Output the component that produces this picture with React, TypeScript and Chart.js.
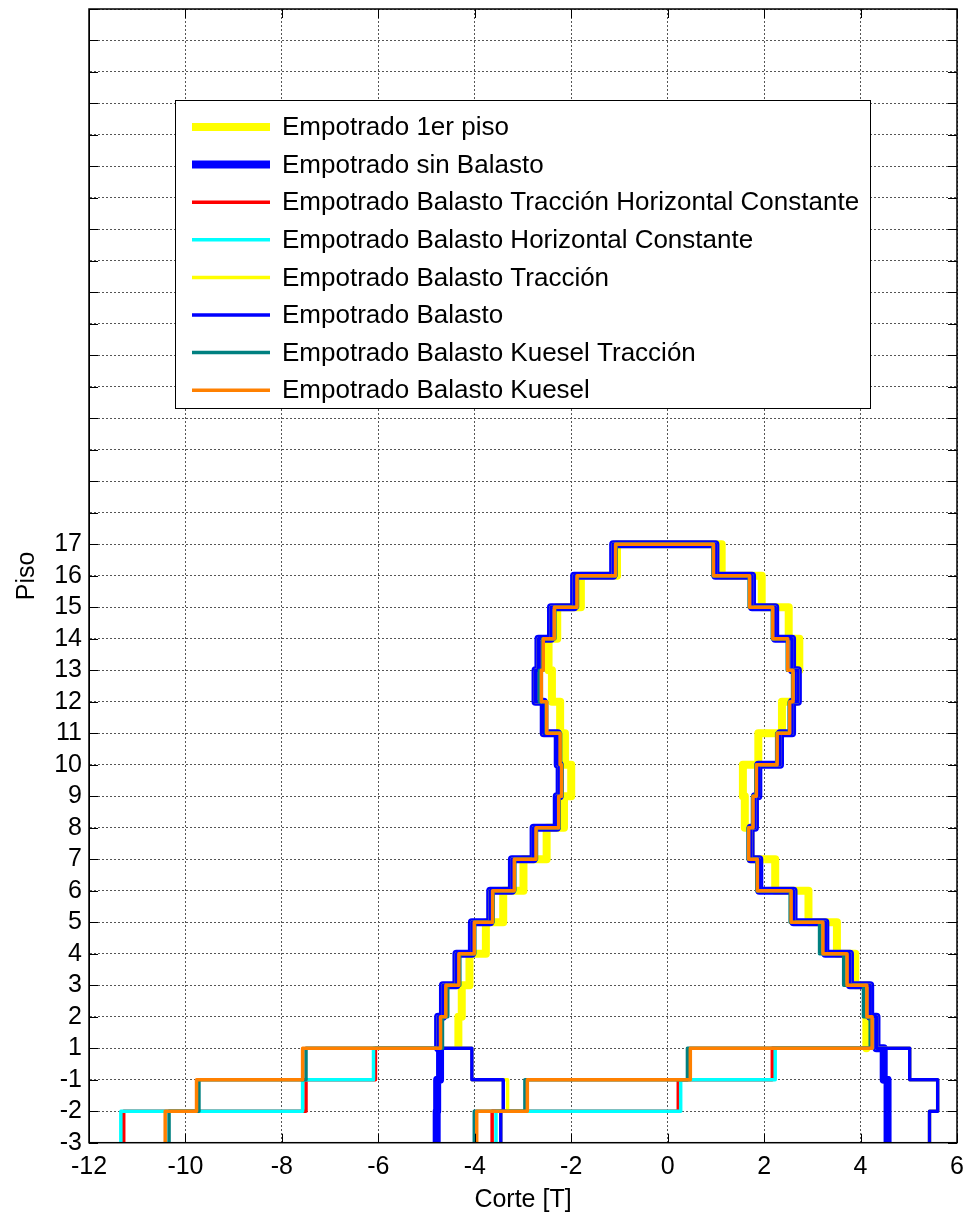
import React, { useEffect, useRef } from "react";
import { Chart, registerables } from "chart.js";

Chart.register(...registerables);

const FONT = "'Liberation Sans', Arial, Helvetica, sans-serif";

// ---- axis ticks ----
const yTickLabels = ["-3", "-2", "-1", "1", "2", "3", "4", "5", "6", "7", "8", "9", "10", "11", "12", "13", "14", "15", "16", "17"];
const yAxisMax = 36;
const xAxisMin = -12;
const xAxisMax = 6;
const xTickStep = 2;

// ---- series meta ----
const seriesLabels = [
  "Empotrado 1er piso",
  "Empotrado sin Balasto",
  "Empotrado Balasto Tracción Horizontal Constante",
  "Empotrado Balasto Horizontal Constante",
  "Empotrado Balasto Tracción",
  "Empotrado Balasto",
  "Empotrado Balasto Kuesel Tracción",
  "Empotrado Balasto Kuesel",
];
const seriesColors = ["#FFFF00", "#0000FF", "#FF0000", "#00FFFF", "#FFFF00", "#0000FF", "#008080", "#FF8000"];
const seriesWidths = [8, 8, 3.5, 3.5, 3.5, 3.5, 3.5, 3.5];
const seriesStartLevel = [3, 0, 0, 0, 0, 0, 0, 0];

// ---- values per storey (bottom -> top), left (negative side) and right branch ----
const primerPisoLeft = [-4.34, -4.27, -4.11, -3.77, -3.41, -2.99, -2.51, -2.15, -2.0, -2.13, -2.23, -2.4, -2.47, -2.29, -1.8, -1.05];
const primerPisoRight = [4.12, 4.15, 3.89, 3.51, 2.92, 2.23, 1.72, 1.6, 1.56, 1.88, 2.37, 2.66, 2.73, 2.51, 1.95, 1.12];

const sinBalastoLeft = [-4.79, -4.78, -4.72, -4.76, -4.66, -4.38, -4.06, -3.68, -3.23, -2.78, -2.3, -2.24, -2.28, -2.57, -2.74, -2.68, -2.42, -1.94, -1.13];
const sinBalastoRight = [4.56, 4.56, 4.48, 4.33, 4.2, 3.78, 3.27, 2.61, 1.9, 1.72, 1.81, 1.88, 2.33, 2.58, 2.7, 2.58, 2.23, 1.75, 0.99];

const tracHorizLeft = [-11.28, -7.5, -6.06, -4.71, -4.6, -4.33, -4.01, -3.63, -3.18, -2.73, -2.26, -2.2, -2.23, -2.51, -2.62, -2.58, -2.35, -1.88, -1.08];
const tracHorizRight = [-3.64, 0.22, 2.17, 4.24, 4.13, 3.72, 3.22, 2.56, 1.86, 1.68, 1.77, 1.84, 2.27, 2.53, 2.6, 2.49, 2.18, 1.7, 0.95];

const horizLeft = [-11.34, -7.57, -6.1, -4.71, -4.6, -4.33, -4.01, -3.63, -3.18, -2.73, -2.26, -2.2, -2.23, -2.51, -2.62, -2.58, -2.35, -1.88, -1.08];
const horizRight = [-3.56, 0.27, 2.23, 4.24, 4.13, 3.72, 3.22, 2.56, 1.86, 1.68, 1.77, 1.84, 2.27, 2.53, 2.6, 2.49, 2.18, 1.7, 0.95];

const traccionLeft = [-3.46, -3.32, -4.06, -4.76, -4.66, -4.38, -4.06, -3.68, -3.23, -2.78, -2.3, -2.24, -2.28, -2.57, -2.74, -2.68, -2.42, -1.94, -1.13];
const traccionRight = [5.43, 5.6, 5.02, 4.33, 4.2, 3.78, 3.27, 2.61, 1.9, 1.72, 1.81, 1.88, 2.33, 2.58, 2.7, 2.58, 2.23, 1.75, 0.99];

const balastoLeft = [-3.46, -3.41, -4.06, -4.76, -4.66, -4.38, -4.06, -3.68, -3.23, -2.78, -2.3, -2.24, -2.28, -2.57, -2.74, -2.68, -2.42, -1.94, -1.13];
const balastoRight = [5.43, 5.6, 5.02, 4.33, 4.2, 3.78, 3.27, 2.61, 1.9, 1.72, 1.81, 1.88, 2.33, 2.58, 2.7, 2.58, 2.23, 1.75, 0.99];

const kueselTracLeft = [-10.34, -9.72, -7.5, -4.67, -4.56, -4.31, -4.0, -3.62, -3.17, -2.72, -2.25, -2.19, -2.22, -2.52, -2.66, -2.59, -2.34, -1.87, -1.07];
const kueselTracRight = [-4.01, -2.96, 0.41, 4.2, 4.06, 3.65, 3.15, 2.54, 1.85, 1.67, 1.76, 1.83, 2.26, 2.52, 2.59, 2.48, 2.17, 1.69, 0.94];

const kueselLeft = [-10.42, -9.77, -7.57, -4.71, -4.6, -4.33, -4.01, -3.63, -3.18, -2.73, -2.26, -2.2, -2.23, -2.51, -2.62, -2.58, -2.35, -1.88, -1.08];
const kueselRight = [-3.96, -2.91, 0.47, 4.24, 4.13, 3.72, 3.22, 2.56, 1.86, 1.68, 1.77, 1.84, 2.27, 2.53, 2.6, 2.49, 2.18, 1.7, 0.95];

const seriesLeft = [primerPisoLeft, sinBalastoLeft, tracHorizLeft, horizLeft, traccionLeft, balastoLeft, kueselTracLeft, kueselLeft];
const seriesRight = [primerPisoRight, sinBalastoRight, tracHorizRight, horizRight, traccionRight, balastoRight, kueselTracRight, kueselRight];

function stairPath(left: number[], right: number[], start: number) {
  const pts: { x: number; y: number }[] = [];
  const n = left.length;
  for (let k = 0; k < n; k++) {
    pts.push({ x: left[k], y: start + k });
    pts.push({ x: left[k], y: start + k + 1 });
  }
  for (let k = n - 1; k >= 0; k--) {
    pts.push({ x: right[k], y: start + k + 1 });
    pts.push({ x: right[k], y: start + k });
  }
  return pts;
}

const frameAndLegend = {
  id: "frameAndLegend",
  afterDraw(chart: any) {
    const { ctx, chartArea } = chart;
    const { left, right, top, bottom } = chartArea;
    ctx.save();
    // inner tick marks
    ctx.strokeStyle = "#000";
    ctx.lineWidth = 1;
    const tl = 9;
    const ys = chart.scales.y;
    const xs = chart.scales.x;
    ctx.beginPath();
    ys.ticks.forEach((t: any) => {
      const py = Math.round(ys.getPixelForValue(t.value)) + 0.5;
      ctx.moveTo(left, py);
      ctx.lineTo(left + tl, py);
      ctx.moveTo(right, py);
      ctx.lineTo(right - tl, py);
    });
    xs.ticks.forEach((t: any) => {
      const px = Math.round(xs.getPixelForValue(t.value)) + 0.5;
      ctx.moveTo(px, bottom);
      ctx.lineTo(px, bottom - tl);
      ctx.moveTo(px, top);
      ctx.lineTo(px, top + tl);
    });
    ctx.stroke();
    // box
    ctx.lineWidth = 1.5;
    ctx.strokeRect(left, top, right - left, bottom - top);

    // legend
    const bx = left + 86;
    const by = top + 91;
    const bw = 695;
    const bh = 308;
    ctx.fillStyle = "#fff";
    ctx.fillRect(bx, by, bw, bh);
    ctx.lineWidth = 1;
    ctx.strokeStyle = "#000";
    ctx.strokeRect(bx + 0.5, by + 0.5, bw, bh);
    ctx.font = `26px ${FONT}`;
    ctx.textBaseline = "middle";
    ctx.textAlign = "left";
    chart.data.datasets.forEach((ds: any, i: number) => {
      const ry = by + 27 + i * 37.6;
      ctx.strokeStyle = ds.borderColor;
      ctx.lineWidth = ds.borderWidth;
      ctx.beginPath();
      ctx.moveTo(bx + 17, ry);
      ctx.lineTo(bx + 95, ry);
      ctx.stroke();
      ctx.fillStyle = "#000";
      ctx.fillText(ds.label, bx + 107, ry + 1);
    });
    ctx.restore();
  },
};

export default function App() {
  const ref = useRef<HTMLCanvasElement | null>(null);
  useEffect(() => {
    document.body.style.margin = "0";
    const canvas = ref.current!;
    const datasets = seriesLabels.map((label, i) => ({
      label,
      data: stairPath(seriesLeft[i], seriesRight[i], seriesStartLevel[i]),
      borderColor: seriesColors[i],
      backgroundColor: seriesColors[i],
      borderWidth: seriesWidths[i],
      showLine: true,
      pointRadius: 0,
      fill: false,
      tension: 0,
      borderJoinStyle: "round" as const,
      order: seriesLabels.length - i,
    }));
    const chart = new Chart(canvas, {
      type: "scatter",
      data: { datasets },
      plugins: [frameAndLegend],
      options: {
        animation: false,
        responsive: false,
        events: [],
        layout: { autoPadding: false, padding: { top: 9, right: 11, left: 0, bottom: 0 } },
        plugins: { legend: { display: false }, tooltip: { enabled: false } },
        scales: {
          x: {
            type: "linear",
            min: xAxisMin,
            max: xAxisMax,
            ticks: { stepSize: xTickStep, color: "#000", font: { family: FONT, size: 25 }, padding: 9, maxRotation: 0 },
            grid: { color: "#555", drawTicks: false, lineWidth: 1 },
            border: { color: "#000", width: 1, dash: [2, 2] },
            title: { display: true, text: "Corte [T]", color: "#000", font: { family: FONT, size: 25 }, padding: { top: 0, bottom: 1 } },
            afterFit: (s: any) => {
              s.height = 1216 - 1142.7;
              s.paddingLeft = 0;
              s.paddingRight = 0;
            },
          },
          y: {
            type: "linear",
            min: 0,
            max: yAxisMax,
            ticks: {
              stepSize: 1,
              autoSkip: false,
              maxTicksLimit: 100,
              color: "#000",
              font: { family: FONT, size: 25 },
              padding: 7,
              callback: (v: any) => (yTickLabels[v] !== undefined ? yTickLabels[v] : ""),
            },
            grid: { color: "#555", drawTicks: false, lineWidth: 1 },
            border: { color: "#000", width: 1, dash: [2, 2] },
            title: { display: true, text: "Piso", color: "#000", font: { family: FONT, size: 25 }, padding: { top: 12, bottom: 0 } },
            afterFit: (s: any) => {
              s.width = 89;
              s.paddingTop = 0;
              s.paddingBottom = 0;
            },
          },
        },
      },
    } as any);
    return () => chart.destroy();
  }, []);
  return <canvas ref={ref} width={968} height={1216} style={{ display: "block" }} />;
}
